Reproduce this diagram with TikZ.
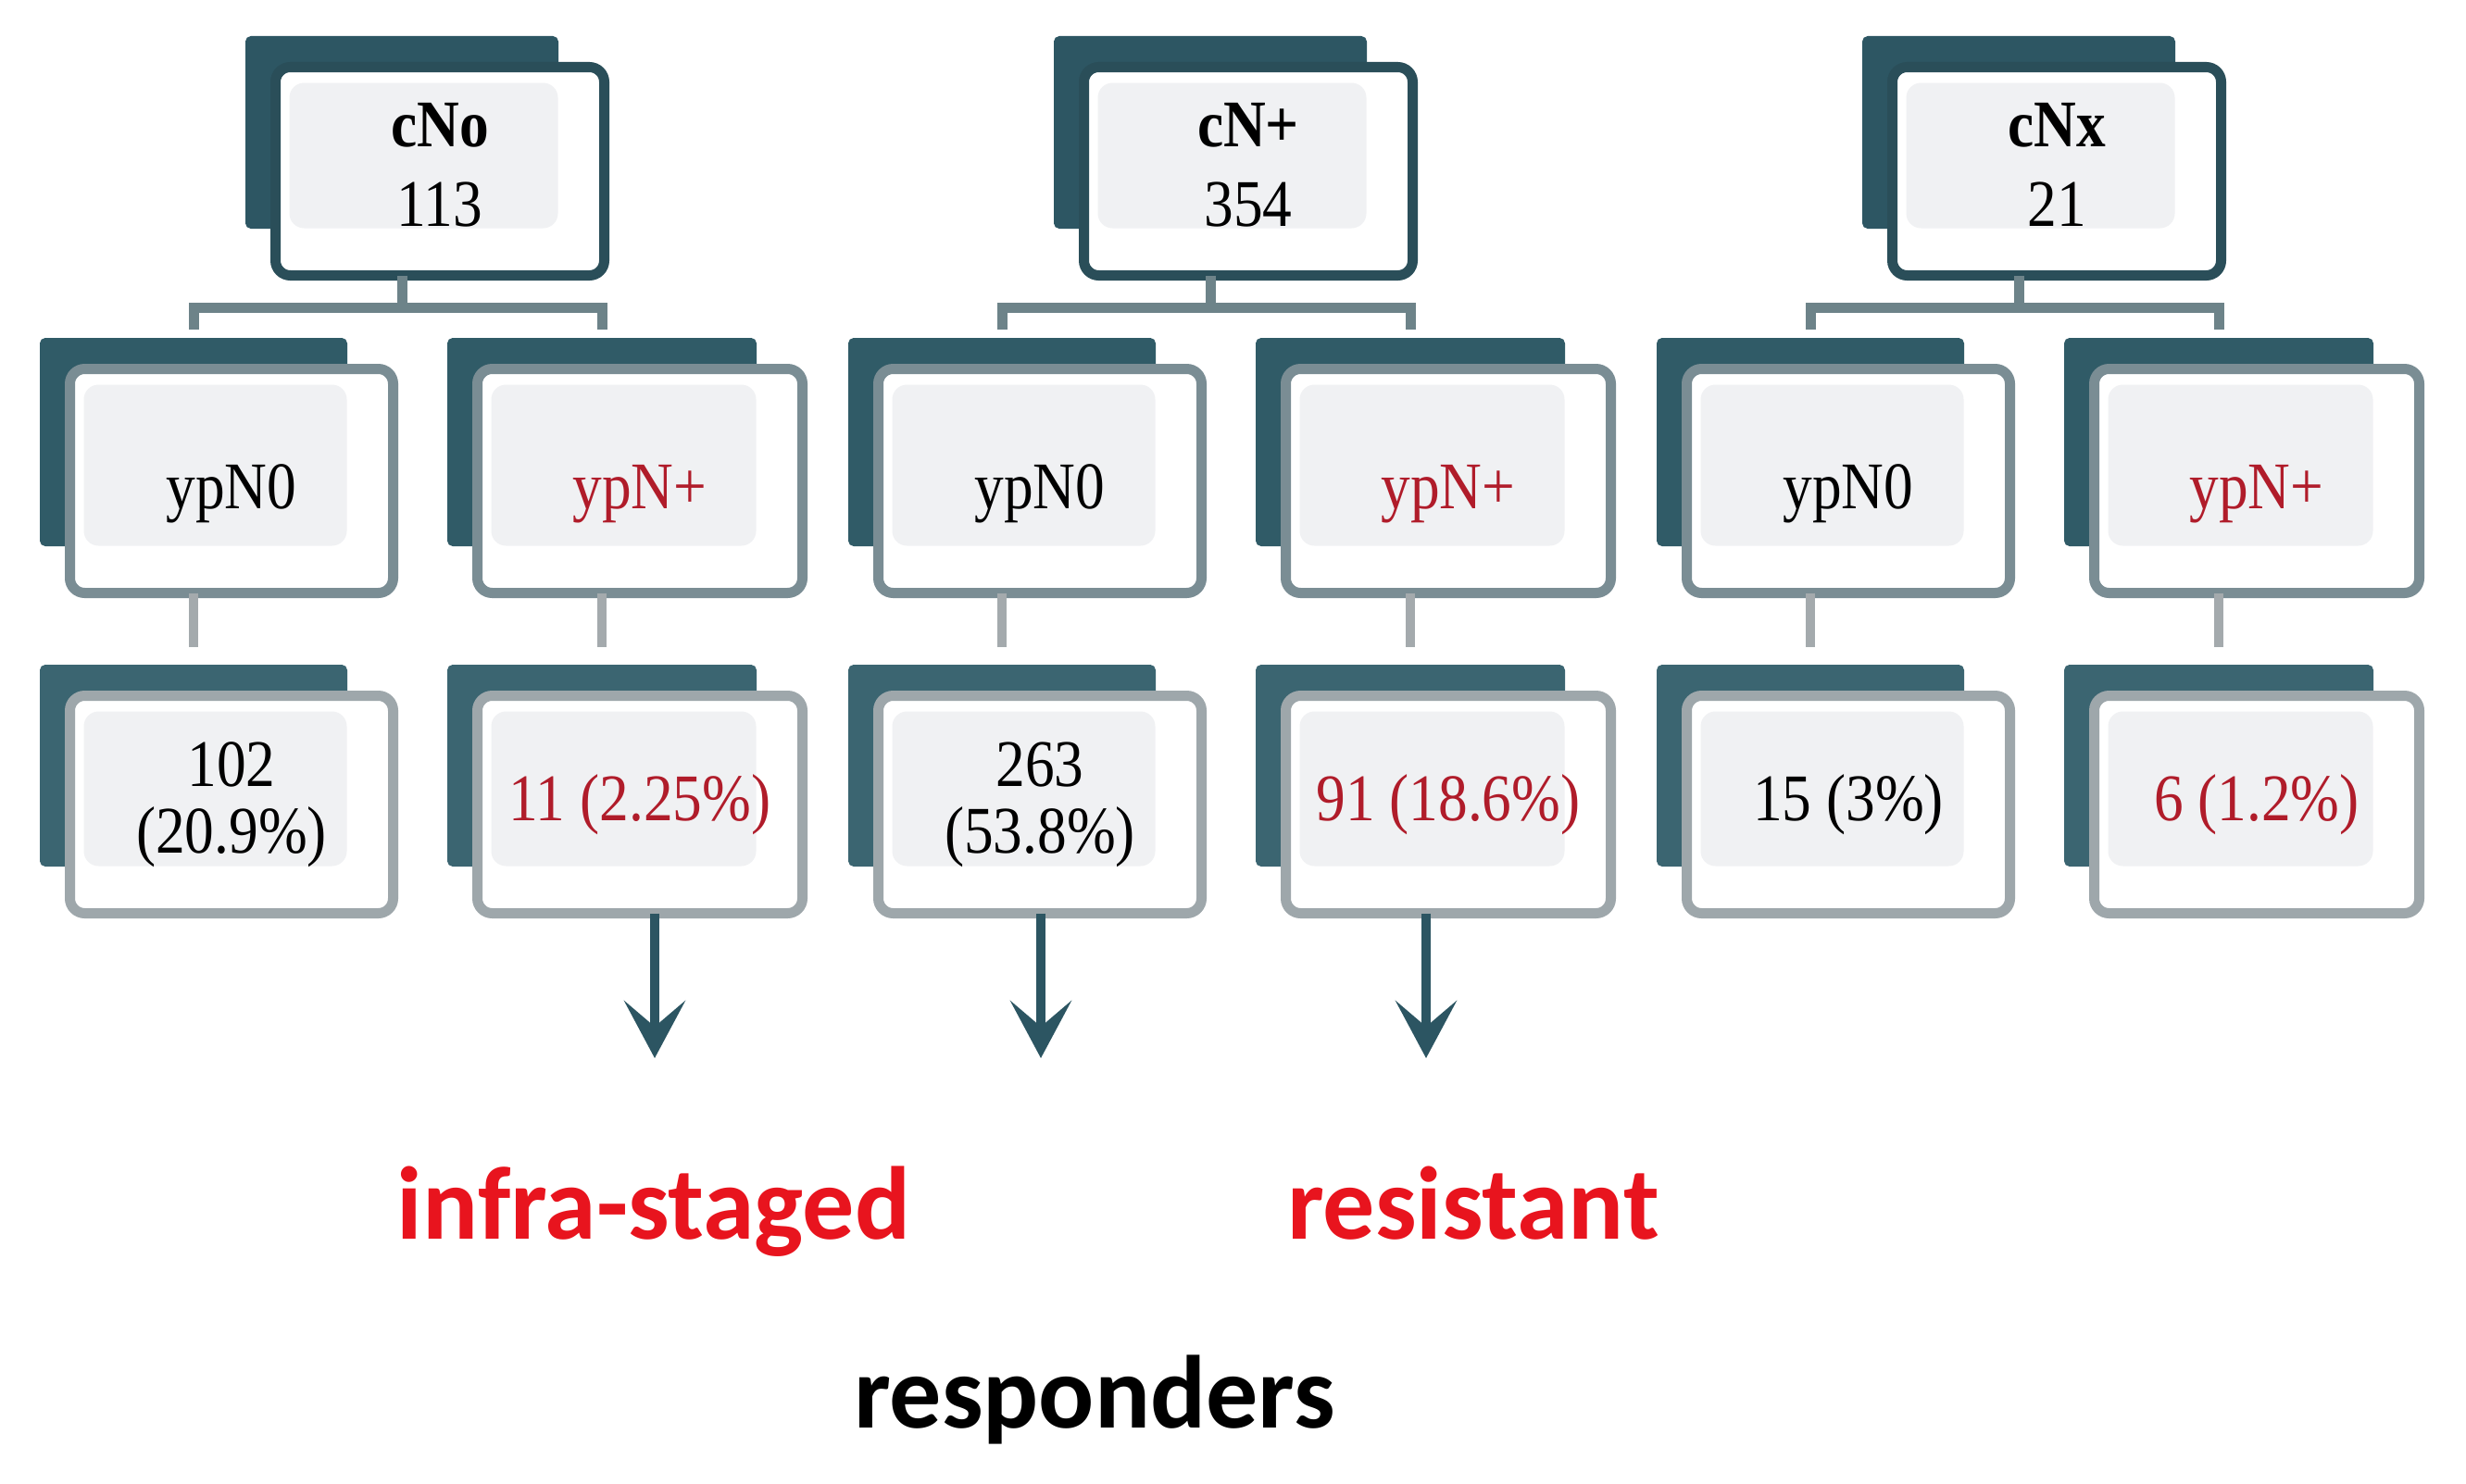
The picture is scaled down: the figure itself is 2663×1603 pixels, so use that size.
\documentclass[tikz,border=0pt]{standalone}
\usepackage{fontspec}
\newfontfamily\boxfont[FakeStretch=0.88]{Liberation Serif}
\newfontfamily\labfont{Carlito}
\usetikzlibrary{arrows.meta}
\definecolor{topback}{HTML}{2D5663}
\definecolor{topborder}{HTML}{2A4E59}
\definecolor{oneback}{HTML}{305B67}
\definecolor{oneborder}{HTML}{7A8D94}
\definecolor{twoback}{HTML}{3B6571}
\definecolor{twoborder}{HTML}{9EA7AB}
\definecolor{innergray}{HTML}{F0F1F3}
\definecolor{barc}{HTML}{6D8389}
\definecolor{lowc}{HTML}{A4AAAD}
\definecolor{arrowc}{HTML}{2C5562}
\definecolor{boxred}{HTML}{B01C2A}
\definecolor{labred}{HTML}{E8141E}
\tikzset{
  backbox/.style={draw=#1, fill=#1, line width=2pt, rounded corners=5pt, inner sep=0pt, outer sep=0pt},
  frontbox/.style={draw=#1, fill=white, line width=11pt, rounded corners=16pt, inner sep=0pt, outer sep=0pt,
    align=center, font=\boxfont\fontsize{72}{72}\selectfont,
    path picture={\fill[innergray] ([shift={(15pt,-17pt)}]path picture bounding box.north west) rectangle ([shift={(-50pt,51pt)}]path picture bounding box.south east);}},
  barline/.style={draw=barc, line width=11pt},
  lowline/.style={draw=lowc, line width=10pt},
  arr/.style={draw=arrowc, line width=10pt, -{Stealth[length=62pt,width=66pt,inset=28pt]}},
  lab/.style={font=\labfont\bfseries\fontsize{112}{120}\selectfont, anchor=base, inner sep=0pt},
}
\newcommand\stackedbox[8]{%
  \node[backbox=#6, minimum width={#4-#2-30}, minimum height={#5-#3-30}] (#1b) at ({(#2+#4)/2-41},{(#3+#5)/2-42}) {};
  \node[frontbox=#7, minimum width={#4-#2-11}, minimum height={#5-#3-11}] (#1) at ({(#2+#4)/2},{(#3+#5)/2}) {#8};
}
\newcommand\lowr[1]{\raisebox{-14pt}[\height][\depth]{#1}}
\newcommand\upr[1]{\raisebox{-2pt}[\height][\depth]{\begin{tabular}{@{}c@{}}#1\end{tabular}}}
\begin{document}
\begin{tikzpicture}[x=1pt,y=-1pt]
\useasboundingbox[fill=white] (0,0) rectangle (2663,1603);
% group 1
\stackedbox{t1}{292}{67}{658}{303}{topback}{topborder}{\upr{\textbf{cNo}\\[14pt]113}}
\stackedbox{a1}{70}{393}{430}{646}{oneback}{oneborder}{\lowr{ypN0}}
\stackedbox{b1}{510}{393}{872}{646}{oneback}{oneborder}{\lowr{\textcolor{boxred}{ypN+}}}
\stackedbox{c1}{70}{746}{430}{992}{twoback}{twoborder}{102\\(20.9\%)}
\stackedbox{d1}{510}{746}{872}{992}{twoback}{twoborder}{\textcolor{boxred}{11 (2.25\%)}}
% group 2
\stackedbox{t2}{1165}{67}{1531}{303}{topback}{topborder}{\upr{\textbf{cN+}\\[14pt]354}}
\stackedbox{a2}{943}{393}{1303}{646}{oneback}{oneborder}{\lowr{ypN0}}
\stackedbox{b2}{1383}{393}{1745}{646}{oneback}{oneborder}{\lowr{\textcolor{boxred}{ypN+}}}
\stackedbox{c2}{943}{746}{1303}{992}{twoback}{twoborder}{263\\(53.8\%)}
\stackedbox{d2}{1383}{746}{1745}{992}{twoback}{twoborder}{\textcolor{boxred}{91 (18.6\%)}}
% group 3
\stackedbox{t3}{2038}{67}{2404}{303}{topback}{topborder}{\upr{\textbf{cNx}\\[14pt]21}}
\stackedbox{a3}{1816}{393}{2176}{646}{oneback}{oneborder}{\lowr{ypN0}}
\stackedbox{b3}{2256}{393}{2618}{646}{oneback}{oneborder}{\lowr{\textcolor{boxred}{ypN+}}}
\stackedbox{c3}{1816}{746}{2176}{992}{twoback}{twoborder}{15 (3\%)}
\stackedbox{d3}{2256}{746}{2618}{992}{twoback}{twoborder}{\textcolor{boxred}{6 (1.2\%)}}
% connectors
\coordinate (barY) at (0,332);
\foreach \g in {1,2,3}{
  \draw[barline] (t\g.south -| t\g b.north) -- (t\g b.north |- barY);
  \draw[barline] ([yshift=10pt]a\g b.north) -- (a\g b.north |- barY) -- (b\g b.north |- barY) -- ([yshift=10pt]b\g b.north);
  \draw[lowline] (a\g.south -| a\g b.north) -- ([yshift=20pt]c\g b.north);
  \draw[lowline] (b\g.south -| b\g b.north) -- ([yshift=20pt]d\g b.north);
}
\coordinate (tip1) at (707,1143);
\coordinate (tip2) at (1124,1143);
\coordinate (tip3) at (1540,1143);
\draw[arr] (d1.south -| tip1) -- (tip1);
\draw[arr] (c2.south -| tip2) -- (tip2);
\draw[arr] (d2.south -| tip3) -- (tip3);
% labels
\node[lab, text=labred] (infra) at (706,1338) {infra-staged};
\node[lab, text=labred] (resist) at (1591,1338) {resistant};
\node[lab, text=black] (resp) at (1182,1542) {responders};
\end{tikzpicture}
\end{document}
